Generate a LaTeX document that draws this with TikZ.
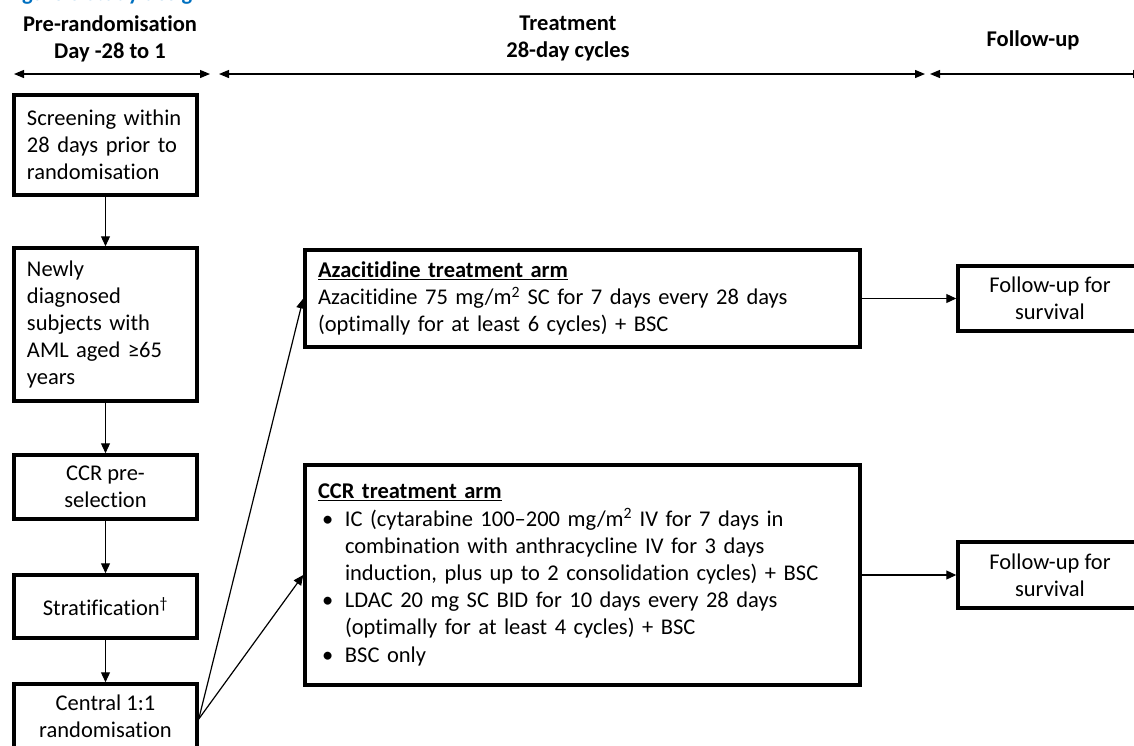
\documentclass[tikz,border=0pt]{standalone}
\usepackage{fontspec}
\setmainfont{Carlito}[Ligatures=NoCommon]
\usetikzlibrary{arrows.meta}
\definecolor{titleblue}{RGB}{0,112,192}
\newcommand\bodyfs{\fontsize{22.5}{27.2}\selectfont}
\setlength\parindent{0pt}
\tikzset{
  box/.style={draw, line width=3.5pt, inner sep=0pt, font=\bodyfs},
  leftbox/.style={box, minimum width=183pt, text width=157pt, inner xsep=13pt, align=left},
  midbox/.style={box, minimum width=183pt, align=center},
  armbox/.style={box, minimum width=555pt, text width=529pt, inner xsep=13pt, align=left},
  hdr/.style={font=\bodyfs\bfseries, align=center, inner sep=0pt},
  conn/.style={line width=1.2pt, -{Triangle[length=10pt,width=9pt]}},
  harrow/.style={line width=1.2pt, {Triangle[length=10pt,width=8pt]}-{Triangle[length=10pt,width=8pt]}}
}
\newcommand\bulmark{\makebox[27pt][l]{\hspace{4pt}•}}
\newcommand\bulcont{\hspace*{27pt}}
\begin{document}
\begin{tikzpicture}[x=1pt,y=-1pt]
\useasboundingbox (0,0) rectangle (1134,745);
\clip (0,0) rectangle (1134,745);

% cut-off title
\node[anchor=base west, inner sep=0pt, font=\bodyfs\bfseries, text=titleblue] (title) at (6,0.5) {Figure 3 Study design};

% headers
\node[hdr] (h1) at (110,38.5) {Pre-randomisation\\Day -28 to 1};
\node[hdr] (h2) at (568,38.5) {Treatment\\28-day cycles};
\node[hdr] (h3) at (1033,40) {Follow-up};

\coordinate (a1l) at (14,74);
\coordinate (a1r) at (210,74);
\coordinate (a2l) at (219,74);
\coordinate (a2r) at (925,74);
\coordinate (a3l) at (930,74);
\coordinate (a3r) at (1143,74);
\draw[harrow] (a1l) -- (a1r);
\draw[harrow] (a2l) -- (a2r);
\draw[harrow] (a3l) -- (a3r);

% left column
\node[leftbox, minimum height=100pt] (scr) at (105.5,145) {Screening within\\28 days prior to\\randomisation};
\node[leftbox, minimum height=153pt] (newly) at (105.5,324.5) {Newly\\diagnosed\\subjects with\\AML aged ≥65\\years};
\node[midbox, minimum height=64pt] (ccrsel) at (105.5,487) {CCR pre-\\selection};
\node[midbox, minimum height=63pt] (strat) at (105.5,606.5) {Stratification\textsuperscript{†}};
\node[midbox, minimum height=64pt] (rand) at (105.5,716) {Central 1:1\\randomisation};

% arms
\node[armbox, minimum height=97pt] (aza) at (582.5,298.5) {\underline{\textbf{Azacitidine treatment arm}}\\Azacitidine 75 mg/m\textsuperscript{2} SC for 7 days every 28 days\\(optimally for at least 6 cycles) + BSC};
\node[armbox, minimum height=220pt] (ccr) at (582.5,575) {\underline{\textbf{CCR treatment arm}}\par
\bulmark IC (cytarabine 100–200 mg/m\textsuperscript{2} IV for 7 days in\par
\bulcont combination with anthracycline IV for 3 days\par
\bulcont induction, plus up to 2 consolidation cycles) + BSC\par
\bulmark LDAC 20 mg SC BID for 10 days every 28 days\par
\bulcont (optimally for at least 4 cycles) + BSC\par
\bulmark BSC only};

% follow-up
\node[midbox, minimum width=184pt, minimum height=65pt] (fu1) at (1050,298.5) {Follow-up for\\survival};
\node[midbox, minimum width=184pt, minimum height=66pt] (fu2) at (1050,575) {Follow-up for\\survival};

% connectors
\draw[conn] (scr.south) -- (newly.north);
\draw[conn] (newly.south) -- (ccrsel.north);
\draw[conn] (ccrsel.south) -- (strat.north);
\draw[conn] (strat.south) -- (rand.north);
\draw[conn] ([yshift=-3pt]rand.east) -- (aza.west);
\draw[conn] ([yshift=-3pt]rand.east) -- (ccr.west);
\draw[conn] (aza.east) -- (fu1.west);
\draw[conn] (ccr.east) -- (fu2.west);
\end{tikzpicture}
\end{document}
